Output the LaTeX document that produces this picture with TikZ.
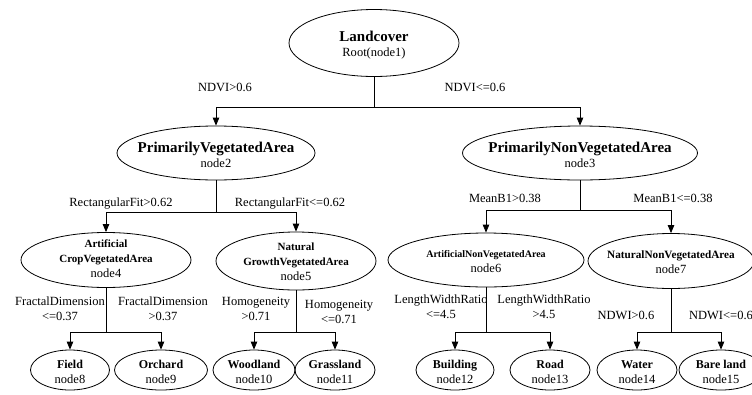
\documentclass[tikz,border=0pt]{standalone}
\usepackage{fontspec}
\setmainfont{Liberation Serif}
\usetikzlibrary{shapes.geometric,arrows.meta}
\begin{document}
\begin{tikzpicture}[x=1pt,y=-1pt,
  box/.style={ellipse,draw,line width=0.8pt,inner sep=0pt},
  txt/.style={align=center,inner sep=0pt,font=\fontsize{12.5}{15}\selectfont},
  elabel/.style={align=center,inner sep=0pt,font=\fontsize{12.5}{15}\selectfont},
  edge/.style={line width=0.8pt},
  arr/.style={line width=0.8pt,-{Triangle[length=8pt,width=6.5pt]}},
  bA/.style={font=\fontsize{15}{16}\selectfont\bfseries},
]
\useasboundingbox (0,0) rectangle (752,394);
% ellipses
\node[box,minimum width=170pt,minimum height=67pt] (root) at (374,43) {};
\node[box,minimum width=198pt,minimum height=54pt] (n2) at (216,153) {};
\node[box,minimum width=235pt,minimum height=54pt] (n3) at (580,153) {};
\node[box,minimum width=170pt,minimum height=55pt] (n4) at (106,260) {};
\node[box,minimum width=160pt,minimum height=58pt] (n5) at (296,261) {};
\node[box,minimum width=196pt,minimum height=54pt] (n6) at (486,260) {};
\node[box,minimum width=166pt,minimum height=55pt] (n7) at (671,261) {};
\node[box,minimum width=79pt,minimum height=40pt] (n8) at (70,370) {};
\node[box,minimum width=93pt,minimum height=40pt] (n9) at (161,370) {};
\node[box,minimum width=82pt,minimum height=40pt] (n10) at (254,370) {};
\node[box,minimum width=80pt,minimum height=40pt] (n11) at (335,370) {};
\node[box,minimum width=78pt,minimum height=40pt] (n12) at (455,370) {};
\node[box,minimum width=80pt,minimum height=40pt] (n13) at (550,370) {};
\node[box,minimum width=80pt,minimum height=40pt] (n14) at (637,370) {};
\node[box,minimum width=84pt,minimum height=40pt] (n15) at (721,370) {};
% texts
\node[txt] (t1) at (374,45) {{\fontsize{15}{16}\selectfont\bfseries Landcover}\\Root(node1)};
\node[txt] (t2) at (216,155) {{\fontsize{15}{16}\selectfont\bfseries PrimarilyVegetatedArea}\\node2};
\node[txt] (t3) at (580,155) {{\fontsize{15}{16}\selectfont\bfseries PrimarilyNonVegetatedArea}\\node3};
\node[txt] (t4) at (106,259) {{\fontsize{11}{15}\selectfont\bfseries Artificial}\\{\fontsize{11}{15}\selectfont\bfseries CropVegetatedArea}\\node4};
\node[txt] (t5) at (296,262) {{\fontsize{11}{13}\selectfont\bfseries Natural}\\{\fontsize{11}{13}\selectfont\bfseries GrowthVegetatedArea}\\node5};
\node[txt] (t6) at (486,262) {{\fontsize{10}{15}\selectfont\bfseries ArtificialNonVegetatedArea}\\node6};
\node[txt] (t7) at (671,262) {{\fontsize{11.2}{15}\selectfont\bfseries NaturalNonVegetatedArea}\\node7};
\node[txt] (t8) at (70,372) {{\fontsize{12}{14}\selectfont\bfseries Field}\\node8};
\node[txt] (t9) at (161,372) {{\fontsize{12}{14}\selectfont\bfseries Orchard}\\node9};
\node[txt] (t10) at (254,372) {{\fontsize{12}{14}\selectfont\bfseries Woodland}\\node10};
\node[txt] (t11) at (335,372) {{\fontsize{12}{14}\selectfont\bfseries Grassland}\\node11};
\node[txt] (t12) at (455,372) {{\fontsize{12}{14}\selectfont\bfseries Building}\\node12};
\node[txt] (t13) at (550,372) {{\fontsize{12}{14}\selectfont\bfseries Road}\\node13};
\node[txt] (t14) at (637,372) {{\fontsize{12}{14}\selectfont\bfseries Water}\\node14};
\node[txt] (t15) at (721,372) {{\fontsize{12}{14}\selectfont\bfseries Bare land}\\node15};
% junctions
\coordinate (j1) at (374,107);
\coordinate (j2) at (216,212);
\coordinate (j3) at (580,210);
\coordinate (j4) at (106,332);
\coordinate (j5) at (296,332);
\coordinate (j6) at (486,332);
\coordinate (j7) at (671,332);
% connectors
\draw[edge] (root) -- (j1);
\draw[arr] (j1) -| (n2);
\draw[arr] (j1) -| (n3);
\draw[edge] (n2) -- (j2);
\draw[arr] (j2) -| (n4);
\draw[arr] (j2) -| (n5);
\draw[edge] (n3) -- (j3);
\draw[arr] (j3) -| (n6);
\draw[arr] (j3) -| (n7);
\draw[edge] (n4) -- (j4);
\draw[arr] (j4) -| (n8);
\draw[arr] (j4) -| (n9);
\draw[edge] (n5) -- (j5);
\draw[arr] (j5) -| (n10);
\draw[arr] (j5) -| (n11);
\draw[edge] (n6) -- (j6);
\draw[arr] (j6) -| (n12);
\draw[arr] (j6) -| (n13);
\draw[edge] (n7) -- (j7);
\draw[arr] (j7) -| (n14);
\draw[arr] (j7) -| (n15);
% edge labels
\node[elabel] (l1) at (225,87) {NDVI>0.6};
\node[elabel] (l2) at (475,87) {NDVI<=0.6};
\node[elabel] (l3) at (121,204) {RectangularFit>0.62};
\node[elabel] (l4) at (290,204) {RectangularFit<=0.62};
\node[elabel] (l5) at (505,198) {MeanB1>0.38};
\node[elabel] (l6) at (673,198) {MeanB1<=0.38};
\node[elabel] (l7) at (60,309) {FractalDimension\\<=0.37};
\node[elabel] (l8) at (163,309) {FractalDimension\\>0.37};
\node[elabel] (l9) at (256,309) {Homogeneity\\>0.71};
\node[elabel] (l10) at (339,312) {Homogeneity\\<=0.71};
\node[elabel] (l11) at (441,307) {LengthWidthRatio\\<=4.5};
\node[elabel] (l12) at (544,307) {LengthWidthRatio\\>4.5};
\node[elabel] (l13) at (626,315) {NDWI>0.6};
\node[elabel] (l14) at (721,315) {NDWI<=0.6};
\end{tikzpicture}
\end{document}
